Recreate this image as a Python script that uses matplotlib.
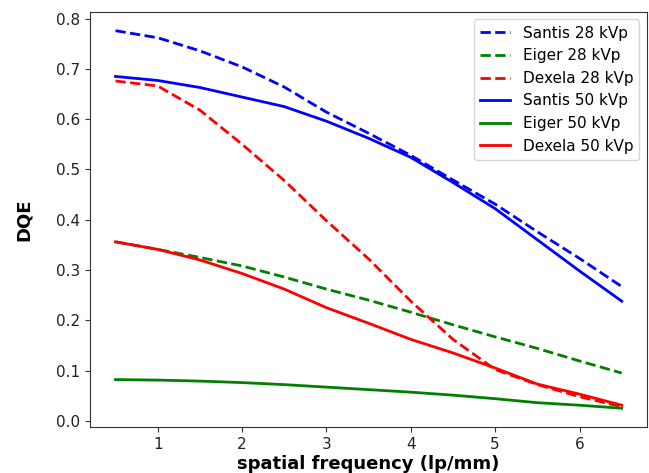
import numpy as np
import matplotlib
matplotlib.use("Agg")
import matplotlib.pyplot as plt

freq = [0.5, 1.0, 1.5, 2.0, 2.5, 3.0, 3.5, 4.0, 4.5, 5.0, 5.5, 6.0, 6.5]

santis_28 = [0.776, 0.762, 0.736, 0.704, 0.664, 0.614, 0.572, 0.528, 0.479, 0.431, 0.376, 0.323, 0.267]
eiger_28 = [0.356, 0.341, 0.325, 0.308, 0.286, 0.262, 0.240, 0.216, 0.191, 0.167, 0.144, 0.119, 0.095]
dexela_28 = [0.676, 0.666, 0.618, 0.550, 0.478, 0.398, 0.322, 0.238, 0.162, 0.102, 0.072, 0.048, 0.028]
santis_50 = [0.685, 0.677, 0.663, 0.644, 0.625, 0.596, 0.562, 0.524, 0.474, 0.422, 0.360, 0.298, 0.238]
eiger_50 = [0.082, 0.081, 0.079, 0.076, 0.072, 0.067, 0.062, 0.057, 0.051, 0.044, 0.036, 0.031, 0.025]
dexela_50 = [0.356, 0.341, 0.320, 0.293, 0.262, 0.225, 0.194, 0.162, 0.135, 0.105, 0.073, 0.053, 0.031]

fig = plt.figure(figsize=(6.49, 4.73), dpi=100)
ax = fig.add_axes([0.139, 0.097, 0.858, 0.878])

ax.plot(freq, santis_28, "--", color="blue", lw=2, label="Santis 28 kVp")
ax.plot(freq, eiger_28, "--", color="green", lw=2, label="Eiger 28 kVp")
ax.plot(freq, dexela_28, "--", color="red", lw=2, label="Dexela 28 kVp")
ax.plot(freq, santis_50, "-", color="blue", lw=2, label="Santis 50 kVp")
ax.plot(freq, eiger_50, "-", color="green", lw=2, label="Eiger 50 kVp")
ax.plot(freq, dexela_50, "-", color="red", lw=2, label="Dexela 50 kVp")

ax.set_xlabel("spatial frequency (lp/mm)", fontsize=13, fontweight="bold", labelpad=2)
ax.set_ylabel("DQE", fontsize=13, fontweight="bold", labelpad=17)
ax.tick_params(labelsize=11, color="#333333", labelcolor="#222222")
for s in ax.spines.values():
    s.set_color("#333333")
ax.legend(loc="upper right", fontsize=11)

fig.savefig("out.png", dpi=100)
